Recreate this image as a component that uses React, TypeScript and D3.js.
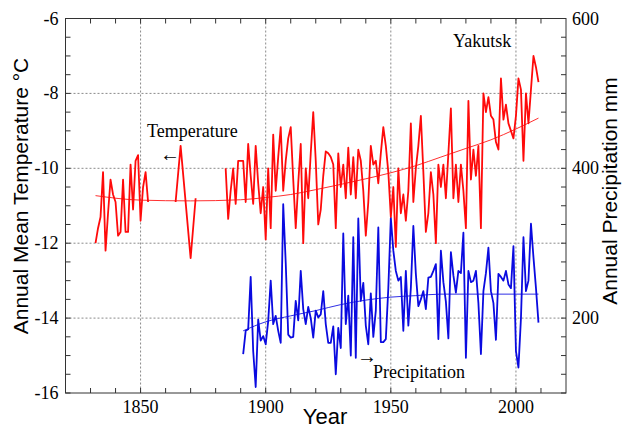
import React from "react";
import * as d3 from "d3";

// Yakutsk annual mean temperature (°C)
const tempEarlyStart = 1832;
const tempEarly = [
  -12.0, -11.6, -11.3, -10.1, -12.2, -11.2, -10.3, -10.7, -10.9, -11.8, -11.7,
  -10.3, -11.7, -11.7, -9.9, -11.1, -9.8, -9.65, -11.4, -10.5, -10.1, -10.9,
];
const tempMidYears = [1864, 1866, 1870, 1872];
const tempMid = [-10.9, -9.4, -12.4, -10.8];
const tempModernStart = 1884;
const tempModern = [
  -10.0, -11.35, -10.6, -10.0, -10.95, -9.8, -9.8, -9.8, -10.9, -9.35, // 1884-1893
  -10.2, -10.95, -9.4, -10.4, -11.2, -10.5, -11.9, -10.0, -11.6, -9.1, // 1894-1903
  -10.6, -9.7, -8.9, -10.6, -9.8, -9.2, -8.9, -10.3, -11.6, -10.4, // 1904-1913
  -9.35, -12.0, -10.0, -10.8, -9.6, -8.5, -9.8, -11.5, -11.1, -10.2, // 1914-1923
  -9.55, -9.6, -9.7, -9.9, -11.6, -9.6, -10.5, -9.9, -10.8, -9.45, // 1924-1933
  -10.7, -9.7, -10.8, -9.5, -9.8, -10.6, -11.8, -10.9, -9.4, -9.9, // 1934-1943
  -9.8, -10.4, -9.6, -8.9, -9.4, -10.1, -11.3, -10.5, -12.1, -10.0, // 1944-1953
  -11.2, -10.7, -11.4, -10.6, -8.8, -10.9, -10.0, -9.4, -8.6, -10.1, // 1954-1963
  -11.7, -11.2, -10.1, -10.7, -12.0, -9.9, -10.5, -9.9, -10.8, -9.6, // 1964-1973
  -8.4, -10.8, -9.9, -10.9, -9.9, -10.6, -11.6, -8.2, -10.3, -9.5, // 1974-1983
  -10.2, -9.4, -11.6, -8.0, -8.5, -8.1, -8.6, -8.7, -9.3, -9.5, // 1984-1993
  -7.6, -8.7, -8.3, -8.8, -9.0, -9.2, -8.6, -7.6, -7.9, -9.8, // 1994-2003
  -8.0, -8.8, -7.9, -7.0, -7.3, -7.7, // 2004-2009
];
const tempTrendYears = [1832, 1850, 1870, 1890, 1900, 1910, 1920, 1930, 1940, 1950, 1960, 1970, 1980, 1990, 2000, 2009];
const tempTrend = [-10.73, -10.85, -10.87, -10.84, -10.78, -10.7, -10.57, -10.43, -10.28, -10.12, -9.93, -9.7, -9.47, -9.24, -8.95, -8.66];

// Yakutsk annual precipitation (mm)
const precipStart = 1891;
const precip = [
  152, 183, 185, 255, 156, 108, 198, 170, 176, // 1891-1899
  165, 196, 250, 192, 203, 183, 167, 352, 274, 178, // 1900-1909
  174, 175, 223, 197, 263, 212, 192, 215, 200, 174, // 1910-1919
  210, 201, 205, 236, 192, 167, 167, 189, 125, 187, // 1920-1929
  160, 313, 192, 230, 150, 308, 147, 333, 223, 247, // 1930-1939
  190, 165, 233, 175, 210, 321, 168, 168, 172, 240, // 1940-1949
  334, 290, 263, 250, 255, 183, 263, 190, 240, 323, // 1950-1959
  259, 216, 225, 236, 212, 254, 255, 263, 272, 172, // 1960-1969
  290, 248, 222, 173, 288, 257, 234, 263, 260, 314, // 1970-1979
  147, 263, 248, 250, 263, 220, 152, 236, 260, 294, // 1980-1989
  236, 220, 171, 259, 255, 250, 263, 245, 240, 296, // 1990-1999
  156, 134, 200, 308, 236, 250, 326, 281, 240, 194, // 2000-2009
];
const precipTrendYears = [1891, 1900, 1910, 1920, 1930, 1940, 1950, 1960, 1970, 1980, 1990, 2000, 2009];
const precipTrend = [183, 195, 203, 210, 218, 224, 228, 230, 232, 232, 232, 232, 232];

const tempTicks = [-6, -8, -10, -12, -14, -16];
const precipTicks = [600, 400, 200];
const yearTicks = [1850, 1900, 1950, 2000];

export default function App() {
  const width = 623;
  const height = 428;
  const left = 65.5, right = 566, top = 18.5, bottom = 393;

  const x = d3.scaleLinear().domain([1820, 2020]).range([left, right]);
  const yT = d3.scaleLinear().domain([-16, -6]).range([bottom, top]);
  const yP = d3.scaleLinear().domain([100, 600]).range([bottom, top]);

  const lineT = d3.line<[number, number]>().x(d => x(d[0])).y(d => yT(d[1]));
  const lineP = d3.line<[number, number]>().x(d => x(d[0])).y(d => yP(d[1]));
  const smoothT = d3.line<[number, number]>().x(d => x(d[0])).y(d => yT(d[1])).curve(d3.curveMonotoneX);
  const smoothP = d3.line<[number, number]>().x(d => x(d[0])).y(d => yP(d[1])).curve(d3.curveMonotoneX);

  const early = tempEarly.map((v, i) => [tempEarlyStart + i, v] as [number, number]);
  const mid = tempMid.map((v, i) => [tempMidYears[i], v] as [number, number]);
  const modern = tempModern.map((v, i) => [tempModernStart + i, v] as [number, number]);
  const pr = precip.map((v, i) => [precipStart + i, v] as [number, number]);
  const tTrend = tempTrendYears.map((yr, i) => [yr, tempTrend[i]] as [number, number]);
  const pTrend = precipTrendYears.map((yr, i) => [yr, precipTrend[i]] as [number, number]);

  const minorT = d3.range(-16, -5.99, 0.5);
  const minorX = d3.range(1830, 2020, 10);
  const serif = "'Liberation Serif', 'Times New Roman', serif";
  const sans = "'Liberation Sans', Arial, sans-serif";
  const red = "#ff0a0a";
  const blue = "#0a0ae0";

  return (
    <svg width={width} height={height} style={{ position: "absolute", left: 0, top: 0, background: "#fff" }}>
      <rect x={0} y={0} width={width} height={height} fill="#fff" />
      {/* grid */}
      <g stroke="#8a8a8a" strokeWidth={1} strokeDasharray="2,2">
        {yearTicks.map(t => <line key={"gx" + t} x1={x(t)} x2={x(t)} y1={top} y2={bottom} />)}
        {[-8, -10, -12, -14].map(t => <line key={"gy" + t} x1={left} x2={right} y1={yT(t)} y2={yT(t)} />)}
      </g>
      {/* ticks */}
      <g stroke="#333" strokeWidth={1}>
        {minorT.map(t => (
          <g key={"ty" + t}>
            <line x1={left} x2={left + 5} y1={yT(t)} y2={yT(t)} />
            <line x1={right} x2={right - 5} y1={yT(t)} y2={yT(t)} />
          </g>
        ))}
        {minorX.map(t => (
          <g key={"tx" + t}>
            <line x1={x(t)} x2={x(t)} y1={bottom} y2={bottom - 5} />
            <line x1={x(t)} x2={x(t)} y1={top} y2={top + 5} />
          </g>
        ))}
      </g>
      {/* series */}
      <g fill="none" strokeLinejoin="round">
        <path d={smoothT(tTrend) || ""} stroke={red} strokeWidth={1} opacity={0.85} />
        <path d={smoothP(pTrend) || ""} stroke={blue} strokeWidth={1} opacity={0.85} />
        <path d={lineP(pr) || ""} stroke={blue} strokeWidth={1.8} />
        {[early, mid, modern].map((seg, i) => (
          <path key={"t" + i} d={lineT(seg) || ""} stroke={red} strokeWidth={1.8} />
        ))}
      </g>
      {/* frame */}
      <rect x={left} y={top} width={right - left} height={bottom - top} fill="none" stroke="#333" strokeWidth={1} />
      {/* tick labels */}
      <g fontFamily={serif} fontSize={18} fill="#000">
        {tempTicks.map(t => (
          <text key={"lt" + t} x={left - 7} y={yT(t) + 6} textAnchor="end">{t}</text>
        ))}
        {precipTicks.map(t => (
          <text key={"lp" + t} x={right + 6} y={yP(t) + 6} textAnchor="start">{t}</text>
        ))}
        {yearTicks.map(t => (
          <text key={"lx" + t} x={x(t)} y={bottom + 20} textAnchor="middle">{t}</text>
        ))}
      </g>
      {/* titles */}
      <text transform="translate(28,196) rotate(-90)" textAnchor="middle" fontFamily={sans} fontSize={21} fill="#000">
        Annual Mean Temperature °C
      </text>
      <text transform="translate(617,191) rotate(-90)" textAnchor="middle" fontFamily={sans} fontSize={21} fill="#000">
        Annual Precipitation mm
      </text>
      <text x={325} y={424} textAnchor="middle" fontFamily={sans} fontSize={22} fill="#000">Year</text>
      {/* annotations */}
      <g fontFamily={serif} fontSize={18} fill="#000">
        <text x={147} y={137}>Temperature</text>
        <text x={160} y={161} fontSize={20}>←</text>
        <text x={453} y={47}>Yakutsk</text>
        <text x={373} y={378}>Precipitation</text>
        <text x={357} y={363} fontSize={20}>→</text>
      </g>
    </svg>
  );
}
